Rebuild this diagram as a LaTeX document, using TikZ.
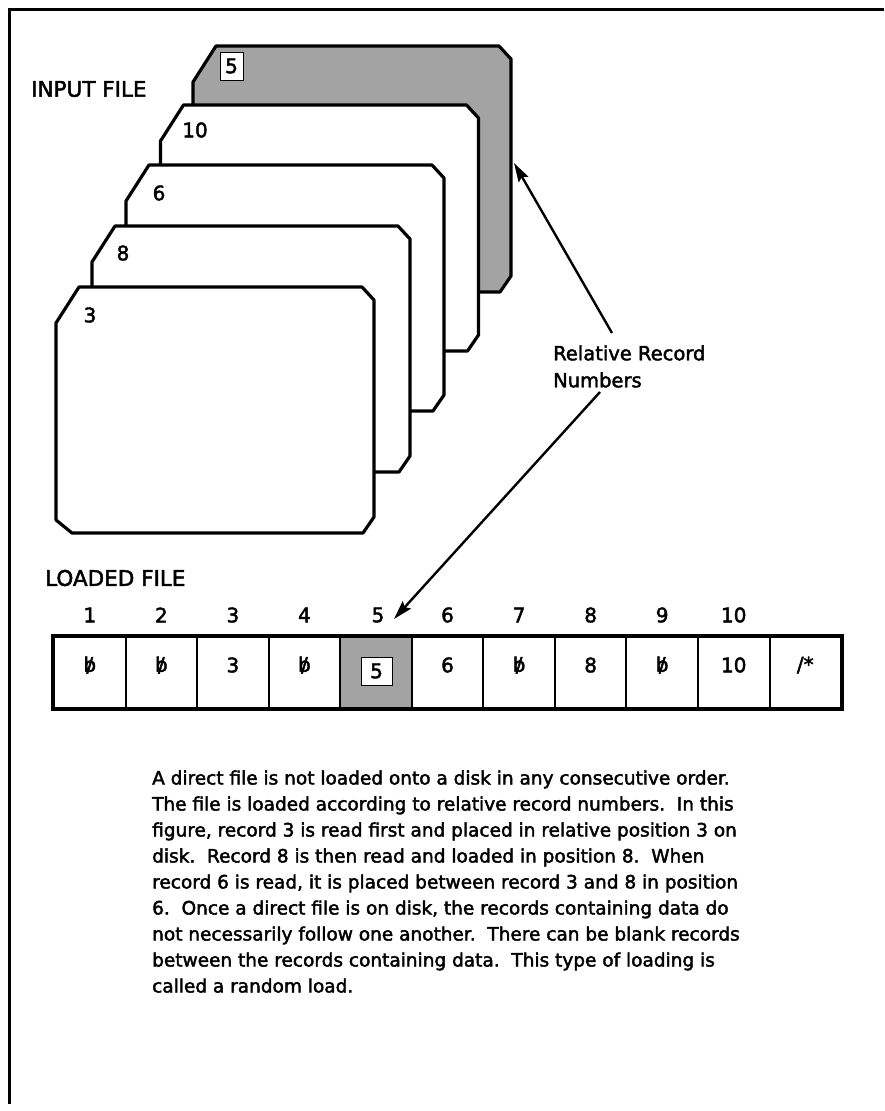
\documentclass[tikz,border=0pt]{standalone}
\usepackage{fontspec}
\setmainfont[FakeBold=2.2]{DejaVu Sans}
\usetikzlibrary{arrows.meta,calc}
\newcommand{\bsl}{\ooalign{b\cr\hidewidth/\hidewidth\cr}}
\newcommand{\cardshape}{(79,287) -- (362,287) -- (374,300) -- (374,517) -- (363,533) -- (72,533) -- (56,520) -- (56,323) -- cycle}
\begin{document}
\begin{tikzpicture}[x=1pt,y=-1pt,
  card/.style={draw=black,line width=3.2pt,line join=round,fill=white},
  shadecard/.style={card,fill=black!36},
  lbl/.style={font=\fontsize{20}{24}\selectfont,inner sep=0pt},
  biglbl/.style={font=\fontsize{21.5}{24}\selectfont,inner sep=0pt,anchor=west},
  para/.style={font=\fontsize{18.5}{26}\selectfont,anchor=base west,inner sep=0pt},
  ptr/.style={line width=2.4pt,-{Stealth[length=19pt,width=11pt,inset=3pt]}},
  cellbox/.style={draw,line width=2pt,minimum width=71.55pt,minimum height=71pt,inner sep=0pt},
  whitebox/.style={draw,line width=0.8pt,fill=white,inner sep=0pt,font=\fontsize{20}{24}\selectfont},
]
\useasboundingbox (0,0) rectangle (884,1111);
% frame
\draw[line width=3pt] (884,9.5) -- (9.5,9.5) -- (9.5,1104);

% cards, back to front
\draw[shadecard,shift={(137,-241)}] \cardshape;
\node[whitebox,minimum width=23pt,minimum height=28pt] (k5) at (231.5,66) {5};
\draw[card,shift={(104.5,-182)}] \cardshape;
\node[lbl] (k10) at (195,130) {10};
\draw[card,shift={(70,-122)}] \cardshape;
\node[lbl] (k6) at (159,193) {6};
\draw[card,shift={(36,-61)}] \cardshape;
\node[lbl] (k8) at (123,253) {8};
\draw[card] \cardshape;
\node[lbl] (k3) at (90,315) {3};

\node[biglbl] (inputfile) at (31,89) {INPUT FILE};
\node[biglbl] (loadedfile) at (45,578) {LOADED FILE};

% loaded file cells
\foreach \i/\t in {1/\bsl,2/\bsl,3/3,4/\bsl,5/{},6/6,7/\bsl,8/8,9/\bsl,10/10,11/{/*}}{
  \pgfmathsetmacro{\cx}{54+71.55*(\i-0.5)}
  \ifnum\i=5
    \node[cellbox,fill=black!36] (c\i) at (\cx,672.5) {};
  \else
    \node[cellbox] (c\i) at (\cx,672.5) {};
  \fi
  \node[lbl] (t\i) at (\cx,665) {\t};
}
\node[whitebox,minimum width=31pt,minimum height=28pt] (t5box) at (376.5,671) {5};
\draw[line width=3.5pt] (c1.north west) rectangle (c11.south east);

% position numbers
\foreach \i in {1,2,3,4,6,7,8,9,10}{
  \pgfmathsetmacro{\cx}{54+71.55*(\i-0.5)}
  \node[lbl] (n\i) at (\cx,615) {\i};
}
\node[lbl] (n5) at (378,615) {5};

% relative record numbers label and arrows
\node[anchor=west,align=left,inner sep=0pt,font=\fontsize{19.5}{27}\selectfont] (rrn) at (553,366.5) {Relative Record\\Numbers};
\coordinate (a1s) at (612,333);
\coordinate (a1e) at (514,163);
\coordinate (a2s) at (600,392);
\coordinate (a2e) at (394,619);
\draw[ptr] (a1s) -- (a1e);
\draw[ptr] (a2s) -- (a2e);

% paragraph
\node[para] (p1) at (152,784.5) {A direct file is not loaded onto a disk in any consecutive order.};
\node[para] (p2) at (152,810.5) {The file is loaded according to relative record numbers.\ \ In this};
\node[para] (p3) at (152,836.5) {figure, record 3 is read first and placed in relative position 3 on};
\node[para] (p4) at (152,862.5) {disk.\ \ Record 8 is then read and loaded in position 8.\ \ When};
\node[para] (p5) at (152,888.5) {record 6 is read, it is placed between record 3 and 8 in position};
\node[para] (p6) at (152,914.5) {6.\ \ Once a direct file is on disk, the records containing data do};
\node[para] (p7) at (152,940.5) {not necessarily follow one another.\ \ There can be blank records};
\node[para] (p8) at (152,966.5) {between the records containing data.\ \ This type of loading is};
\node[para] (p9) at (152,992.5) {called a random load.};
\end{tikzpicture}
\end{document}
